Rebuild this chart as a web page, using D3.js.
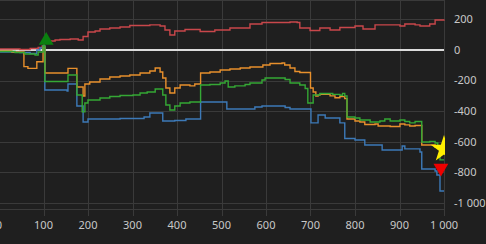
<!DOCTYPE html>
<html>
<head>
<meta charset="utf-8">
<script src="https://cdn.jsdelivr.net/npm/d3@7"></script>
<style>
  html, body { margin:0; padding:0; background:#1f1f1f; overflow:hidden; }
  text { font-family: "Noto Sans", "Open Sans", sans-serif; }
</style>
</head>
<body>
<div id="chart"></div>
<script>
// data: [x, value]
const redSeries = [[0,7],[47,3],[70,10],[88,16],[97,26],[101,52],[106,59],[126,65],[137,69],[160,72],[178,65],[189,88],[200,118],[216,124],[227,137],[249,144],[272,150],[294,160],[339,164],[362,157],[373,131],[384,98],[395,124],[418,134],[452,121],[485,131],[519,144],[564,170],[591,180],[654,183],[670,180],[676,144],[699,128],[721,144],[744,131],[766,147],[800,157],[818,137],[845,164],[879,164],[901,157],[912,170],[935,164],[946,157],[968,170],[980,196],[1000,200]]

const orangeSeries = [[0,-7],[29,-13],[56,-109],[65,-120],[85,-77],[99,20],[103,-150],[155,-120],[175,-242],[189,-301],[193,-222],[204,-209],[227,-190],[249,-177],[272,-170],[294,-164],[317,-150],[339,-137],[351,-118],[362,-144],[368,-183],[375,-249],[384,-281],[395,-249],[407,-229],[429,-235],[440,-222],[453,-150],[474,-144],[497,-131],[519,-124],[542,-118],[564,-111],[593,-98],[609,-88],[636,-85],[642,-98],[654,-118],[665,-141],[676,-147],[700,-249],[706,-275],[712,-301],[717,-295],[721,-290],[744,-300],[755,-312],[766,-305],[777,-318],[782,-451],[800,-464],[811,-471],[822,-487],[845,-484],[852,-497],[879,-500],[901,-484],[912,-490],[923,-497],[935,-494],[950,-621],[968,-621],[980,-634],[991,-654],[1000,-654]]

const greenSeries = [[0,-10],[36,-16],[58,-26],[81,-33],[88,-13],[99,26],[103,-206],[155,-164],[175,-294],[187,-405],[193,-347],[200,-327],[227,-314],[249,-304],[272,-298],[301,-294],[317,-281],[333,-275],[351,-255],[368,-294],[375,-360],[384,-392],[395,-366],[407,-347],[429,-340],[453,-229],[474,-226],[497,-216],[508,-203],[515,-242],[530,-235],[553,-226],[564,-216],[591,-196],[598,-183],[632,-183],[643,-193],[654,-216],[676,-229],[688,-252],[694,-347],[706,-294],[721,-285],[750,-290],[766,-296],[772,-284],[777,-300],[782,-438],[800,-445],[811,-458],[834,-471],[856,-464],[867,-451],[879,-464],[901,-458],[912,-468],[923,-477],[935,-468],[950,-602],[968,-598],[980,-608],[986,-628],[991,-719],[1000,-719]]

const blueSeries = [[0,-13],[47,-16],[70,-23],[85,0],[92,13],[99,26],[103,-262],[153,-268],[155,-222],[175,-366],[189,-471],[200,-451],[272,-448],[326,-438],[339,-412],[368,-464],[395,-461],[420,-451],[453,-340],[512,-386],[575,-373],[591,-366],[643,-376],[654,-386],[701,-477],[717,-425],[733,-445],[766,-477],[777,-579],[800,-589],[822,-621],[861,-654],[906,-628],[912,-647],[946,-667],[950,-778],[980,-791],[984,-818],[991,-922],[1000,-922]]

const markers = [
  {x:106, y:62, type:"up", color:"#0a800f"},
  {x:1000, y:-648, type:"star", color:"#ffee00"},
  {x:993, y:-772, type:"down", color:"#ee0000"}
]

const xTicks = [0,100,200,300,400,500,600,700,800,900,1000]
const yTicks = [200,0,-200,-400,-600,-800,-1000]

const W = 486, H = 244
const plotRight = 444, plotBottom = 209

const svg = d3.select("#chart")
  .append("svg")
  .attr("width", W)
  .attr("height", H)

svg.append("rect").attr("width", W).attr("height", H).attr("fill", "#1f1f1f")

const x = d3.scaleLinear().domain([0,1000]).range([-1, plotRight])
const y = d3.scaleLinear().domain([-1040, 327]).range([plotBottom, 0])

const fmt = d3.formatLocale({decimal:".", thousands:"\u00a0", grouping:[3], currency:["",""], minus:"-"}).format(",d")

const gridColor = "#3a3a3a"

// vertical grid + ticks
svg.append("g")
  .selectAll("line")
  .data(xTicks)
  .join("line")
  .attr("x1", d => Math.round(x(d)) + 0.5)
  .attr("x2", d => Math.round(x(d)) + 0.5)
  .attr("y1", 0)
  .attr("y2", 216)
  .attr("stroke", gridColor)

// horizontal grid
svg.append("g")
  .selectAll("line")
  .data(yTicks.filter(d => d !== 0))
  .join("line")
  .attr("x1", 0)
  .attr("x2", plotRight)
  .attr("y1", d => Math.round(y(d)) + 0.5)
  .attr("y2", d => Math.round(y(d)) + 0.5)
  .attr("stroke", gridColor)

// plot border bottom / top
svg.append("line").attr("x1",0).attr("x2",plotRight).attr("y1",plotBottom+0.5).attr("y2",plotBottom+0.5).attr("stroke",gridColor)
svg.append("line").attr("x1",0).attr("x2",plotRight).attr("y1",0.5).attr("y2",0.5).attr("stroke",gridColor)

// zero line
svg.append("line")
  .attr("x1", 0).attr("x2", plotRight)
  .attr("y1", y(0)).attr("y2", y(0))
  .attr("stroke", "#dcdcdc")
  .attr("stroke-width", 2)

// x labels
svg.append("g")
  .selectAll("text")
  .data(xTicks)
  .join("text")
  .attr("x", d => x(d))
  .attr("y", 229)
  .attr("text-anchor", "middle")
  .attr("fill", "#c8c8c8")
  .style("font-size", "11px")
  .text(d => fmt(d))

// y labels
svg.append("g")
  .selectAll("text")
  .data(yTicks)
  .join("text")
  .attr("x", 454)
  .attr("y", d => y(d))
  .attr("dy", "0.35em")
  .attr("fill", "#c8c8c8")
  .style("font-size", "11px")
  .text(d => fmt(d))

// clip
svg.append("clipPath").attr("id","clip")
  .append("rect").attr("x",0).attr("y",0).attr("width",plotRight+1).attr("height",plotBottom)

const line = d3.line()
  .x(d => x(d[0]))
  .y(d => y(d[1]))
  .curve(d3.curveStepAfter)

const series = [
  {data: redSeries, color:"#c9474b"},
  {data: blueSeries, color:"#3d7ab8"},
  {data: orangeSeries, color:"#e8902c"},
  {data: greenSeries, color:"#35a835"}
]

svg.append("g")
  .attr("clip-path","url(#clip)")
  .selectAll("path")
  .data(series)
  .join("path")
  .attr("d", d => line(d.data))
  .attr("fill", "none")
  .attr("stroke", d => d.color)
  .attr("stroke-width", 1.4)

// markers (the star sits on the plot edge and is clipped by it)
const symbolType = {up: d3.symbolTriangle, down: d3.symbolTriangle, star: d3.symbolStar}
const mg = svg.append("g")
mg.selectAll("g")
  .data(markers)
  .join("g")
  .attr("clip-path", d => d.type === "star" ? "url(#clip)" : null)
  .append("path")
  .attr("transform", d => `translate(${x(d.x)},${y(d.y)})` + (d.type === "down" ? " rotate(180)" : ""))
  .attr("d", d => d3.symbol().type(symbolType[d.type]).size(d.type === "star" ? 220 : 95)())
  .attr("fill", d => d.color)
</script>
</body>
</html>
